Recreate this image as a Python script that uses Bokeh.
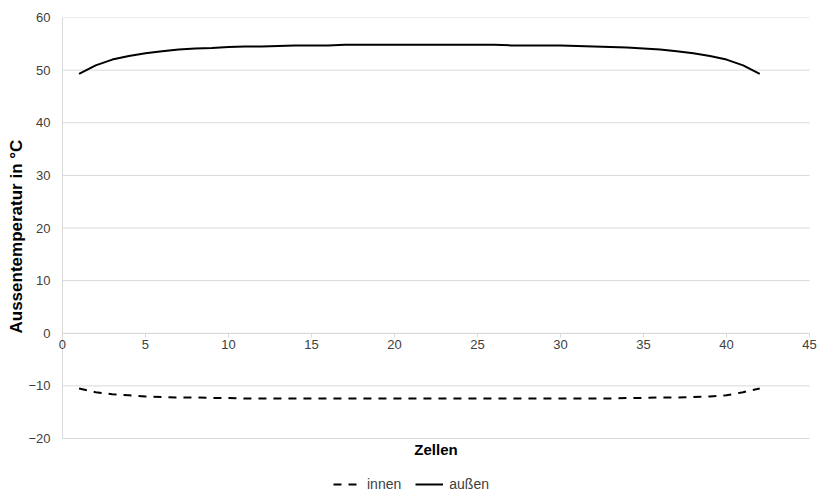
from bokeh.plotting import figure
from bokeh.models import Range1d, Legend, LegendItem, Title, FixedTicker, Label
from bokeh.embed import file_html
from bokeh.resources import INLINE

zellen = list(range(1, 43))
aussen = [49.3, 50.9, 52.0, 52.7, 53.2, 53.6, 53.9, 54.1, 54.2, 54.4,
          54.5, 54.5, 54.6, 54.7, 54.7, 54.7, 54.8, 54.8, 54.8, 54.8,
          54.8, 54.8, 54.8, 54.8, 54.8, 54.8, 54.7, 54.7, 54.7, 54.7,
          54.6, 54.5, 54.4, 54.3, 54.1, 53.9, 53.6, 53.2, 52.7, 52.0,
          50.9, 49.3]
innen = [-10.5, -11.2, -11.6, -11.8, -12.0, -12.1, -12.2, -12.2, -12.3, -12.3,
         -12.4, -12.4, -12.4, -12.4, -12.4, -12.4, -12.4, -12.4, -12.4, -12.4,
         -12.4, -12.4, -12.4, -12.4, -12.4, -12.4, -12.4, -12.4, -12.4, -12.4,
         -12.4, -12.4, -12.4, -12.3, -12.3, -12.2, -12.2, -12.1, -12.0, -11.8,
         -11.2, -10.5]
x_ticks = [0, 5, 10, 15, 20, 25, 30, 35, 40, 45]
y_ticks = [-20, -10, 0, 10, 20, 30, 40, 50, 60]

FONT = "Liberation Sans"
GRID = "#d9d9d9"
PAD_X = 0.54    # room (x units) for the end tick labels
PAD_Y = 10.45   # room (y units) below the plot for the title and legend

p = figure(output_backend="svg", toolbar_location=None,
           x_range=Range1d(x_ticks[0] - PAD_X, x_ticks[-1] + PAD_X),
           y_range=Range1d(y_ticks[0] - PAD_Y, y_ticks[-1]),
           frame_width=765, frame_height=476,
           min_border_left=53, min_border_top=17, min_border_right=0, min_border_bottom=0)
p.outline_line_color = None
p.background_fill_color = "white"
p.border_fill_color = "white"

p.xgrid.visible = False
p.ygrid.visible = False

# horizontal gridlines spanning the x tick extent
n = len(y_ticks)
p.segment(x0=[x_ticks[0]] * n, x1=[x_ticks[-1]] * n, y0=y_ticks, y1=y_ticks,
          line_color=GRID, line_width=1)
# vertical axis line at x = 0
p.segment(x0=[x_ticks[0]], x1=[x_ticks[0]], y0=[y_ticks[0]], y1=[y_ticks[-1]],
          line_color=GRID, line_width=1)

xaxis = p.xaxis[0]
xaxis.ticker = FixedTicker(ticks=x_ticks)
xaxis.fixed_location = 0
xaxis.bounds = (x_ticks[0], x_ticks[-1])
xaxis.axis_line_color = GRID
xaxis.major_tick_line_color = GRID
xaxis.major_tick_out = 4
xaxis.major_tick_in = 0
xaxis.major_label_standoff = 3
xaxis.minor_tick_line_color = None
xaxis.major_label_text_font = FONT
xaxis.major_label_text_font_size = "13px"
xaxis.major_label_text_color = "#404040"

yaxis = p.yaxis[0]
yaxis.ticker = FixedTicker(ticks=y_ticks)
yaxis.axis_line_color = None
yaxis.major_tick_line_color = None
yaxis.major_tick_out = 0
yaxis.major_tick_in = 0
yaxis.major_label_standoff = 3
yaxis.minor_tick_line_color = None
yaxis.major_label_text_font = FONT
yaxis.major_label_text_font_size = "13px"
yaxis.major_label_text_color = "#404040"

ytitle = Title(text="Aussentemperatur in °C", align="left", offset=160,
               text_font=FONT, text_font_size="17px", text_font_style="bold",
               text_color="black", standoff=0)
p.add_layout(ytitle, "left")

r_in = p.line(zellen, innen, line_color="black", line_width=2, line_dash="8 7")
r_out = p.line(zellen, aussen, line_color="black", line_width=2)

xlabel = Label(x=(x_ticks[0] + x_ticks[-1]) / 2, y=y_ticks[0] - 2.1, text="Zellen",
               text_align="center", text_baseline="middle",
               text_font=FONT, text_font_size="15px", text_font_style="bold",
               text_color="black")
p.add_layout(xlabel)

legend = Legend(items=[LegendItem(label="innen", renderers=[r_in]),
                       LegendItem(label="außen", renderers=[r_out])],
                orientation="horizontal", location=(280, 1),
                label_text_font=FONT, label_text_font_size="14px", label_text_color="#404040",
                glyph_width=28, glyph_height=12, label_height=12, label_standoff=6,
                spacing=14, padding=0, margin=0,
                border_line_color=None, background_fill_alpha=0)
p.add_layout(legend, "center")

open("out.html", "w").write(file_html(p, INLINE))
